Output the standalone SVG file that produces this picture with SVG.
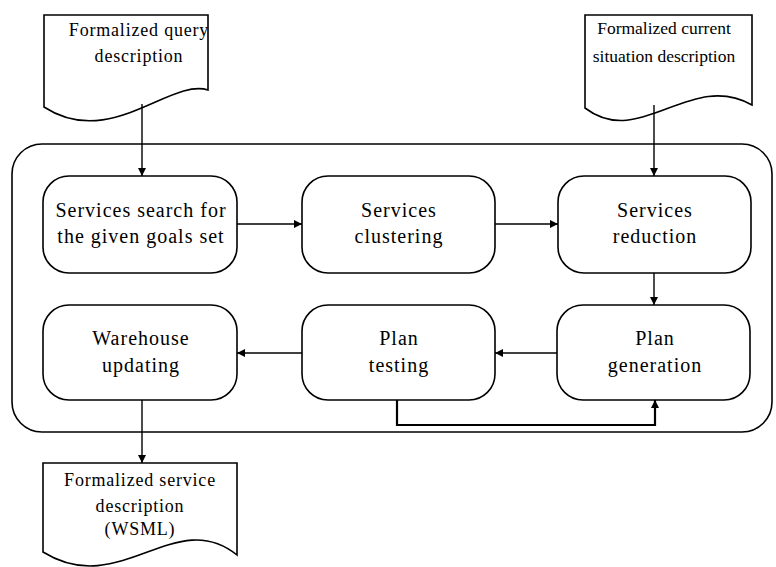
<svg xmlns="http://www.w3.org/2000/svg" width="776" height="567" viewBox="0 0 776 567">
  <style>
    .box { fill: #fff; stroke: #000; stroke-width: 1.6; }
    .doc { fill: #fff; stroke: #000; stroke-width: 1.6; }
    .frame { fill: none; stroke: #000; stroke-width: 1.6; }
    .lbl { font-family: "Liberation Serif", "Times New Roman", serif; font-size: 20px; letter-spacing: 1px; fill: #000; text-anchor: middle; }
    .dlbl { font-family: "Liberation Serif", "Times New Roman", serif; font-size: 18px; letter-spacing: 0.8px; fill: #000; text-anchor: middle; }
    .dlbl.tight { font-size: 17.5px; letter-spacing: 0; }
    .edge { fill: none; stroke: #000; stroke-width: 1.4; }
    .loop { fill: none; stroke: #000; stroke-width: 2.2; }
  </style>
  <defs>
    <marker id="ah" viewBox="0 0 10 10" refX="10" refY="5" markerUnits="userSpaceOnUse" markerWidth="9" markerHeight="8" orient="auto">
      <path d="M0,0 L10,5 L0,10 Z" fill="#000"/>
    </marker>
  </defs>

  <rect width="776" height="567" fill="#fff"/>

  <!-- outer process frame -->
  <rect class="frame" x="12" y="144" width="760" height="288" rx="30" ry="30"/>

  <!-- documents -->
  <g id="doc-query">
    <path class="doc" d="M44,15 H208 V90 C170,78 110,150 44,107 Z"/>
    <text class="dlbl" x="139" y="36">Formalized query</text>
    <text class="dlbl" x="139" y="62">description</text>
  </g>
  <g id="doc-situation">
    <path class="doc" d="M585,15 H752 V105 C690,70 640,150 585,108 Z"/>
    <text class="dlbl tight" x="664" y="34">Formalized current</text>
    <text class="dlbl tight" x="664" y="62">situation description</text>
  </g>
  <g id="doc-service">
    <path class="doc" d="M43,463 H237 V555 C175,505 120,600 43,552 Z"/>
    <text class="dlbl" x="140" y="486">Formalized service</text>
    <text class="dlbl" x="140" y="512">description</text>
    <text class="dlbl" x="140" y="535">(WSML)</text>
  </g>

  <!-- process steps -->
  <g id="search">
    <rect class="box" x="43" y="176" width="194" height="97" rx="26"/>
    <text class="lbl" x="141" y="217">Services search for</text>
    <text class="lbl" x="141" y="243">the given goals set</text>
  </g>
  <g id="clustering">
    <rect class="box" x="302" y="176" width="193" height="97" rx="26"/>
    <text class="lbl" x="399" y="217">Services</text>
    <text class="lbl" x="399" y="243">clustering</text>
  </g>
  <g id="reduction">
    <rect class="box" x="558" y="176" width="193" height="97" rx="26"/>
    <text class="lbl" x="655" y="217">Services</text>
    <text class="lbl" x="655" y="243">reduction</text>
  </g>
  <g id="warehouse">
    <rect class="box" x="43" y="305" width="194" height="95" rx="26"/>
    <text class="lbl" x="141" y="345">Warehouse</text>
    <text class="lbl" x="141" y="372">updating</text>
  </g>
  <g id="testing">
    <rect class="box" x="302" y="305" width="193" height="95" rx="26"/>
    <text class="lbl" x="399" y="345">Plan</text>
    <text class="lbl" x="399" y="372">testing</text>
  </g>
  <g id="generation">
    <rect class="box" x="557" y="305" width="193" height="95" rx="26"/>
    <text class="lbl" x="655" y="345">Plan</text>
    <text class="lbl" x="655" y="372">generation</text>
  </g>

  <!-- connectors -->
  <g id="connectors">
    <line class="edge" x1="142" y1="104" x2="142" y2="176" marker-end="url(#ah)"/>
    <line class="edge" x1="654" y1="105" x2="654" y2="176" marker-end="url(#ah)"/>
    <line class="edge" x1="237" y1="224" x2="302" y2="224" marker-end="url(#ah)"/>
    <line class="edge" x1="495" y1="224" x2="558" y2="224" marker-end="url(#ah)"/>
    <line class="edge" x1="654" y1="273" x2="654" y2="305" marker-end="url(#ah)"/>
    <line class="edge" x1="557" y1="353" x2="495" y2="353" marker-end="url(#ah)"/>
    <line class="edge" x1="302" y1="353" x2="237" y2="353" marker-end="url(#ah)"/>
    <line class="edge" x1="142" y1="400" x2="142" y2="463" marker-end="url(#ah)"/>
    <polyline class="loop" points="397,400 397,425 655,425 655,400" marker-end="url(#ah)"/>
  </g>
</svg>
